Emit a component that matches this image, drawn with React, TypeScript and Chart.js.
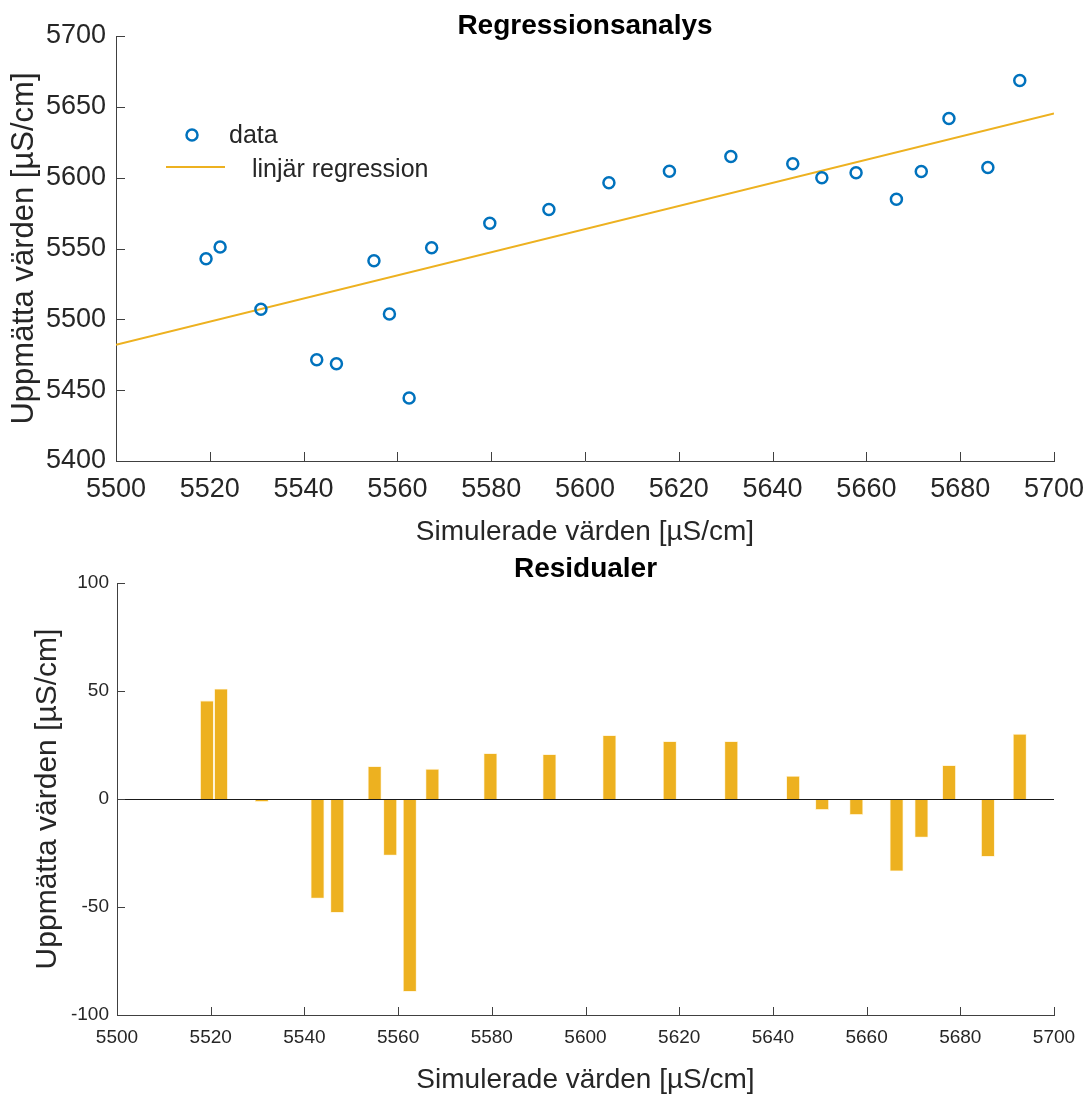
import React, { useEffect, useRef } from "react";
import { Chart, registerables } from "chart.js";

Chart.register(...registerables);

// Simulated values (x) shared by both panels
const simX = [
  5519.2, 5522.2, 5530.9, 5542.8, 5547.0, 5555.0, 5558.3, 5562.5, 5567.3, 5579.7, 5592.3,
  5605.1, 5618.0, 5631.1, 5644.3, 5650.5, 5657.8, 5666.4, 5671.7, 5677.6, 5685.9, 5692.7,
];
// Measured values (y, top panel)
const measY = [
  5542.8, 5551.1, 5507.1, 5471.4, 5468.6, 5541.4, 5503.8, 5444.4, 5550.6, 5567.8, 5577.6,
  5596.4, 5604.6, 5615.0, 5609.8, 5599.9, 5603.4, 5584.7, 5604.4, 5641.8, 5607.2, 5668.6,
];
// Regression line end points
const regX = [5500, 5700];
const regY = [5482.0, 5645.3];
// Residuals (bottom panel)
const residY = [
  45.4, 50.9, -1.2, -45.9, -52.5, 15.0, -26.0, -89.1, 13.8, 21.0, 20.6,
  29.4, 26.6, 26.6, 10.5, -4.9, -7.2, -33.3, -17.7, 15.5, -26.6, 30.0,
];

const topTitle = "Regressionsanalys";
const bottomTitle = "Residualer";
const xTitle = "Simulerade värden [µS/cm]";
const yTitle = "Uppmätta värden [µS/cm]";
const legendLabels = ["data", "linjär regression"];

const FONT = "'Liberation Sans', Arial, Helvetica, sans-serif";
const BLUE = "#0072BD";
const GOLD = "#EDB120";
const AXIS = "#404040";
const TEXT = "#262626";

const plainTick = (v: any) => String(v);

const inwardTicks = (len: number) => ({
  id: "inwardTicks",
  afterDraw(chart: any) {
    const { ctx, chartArea } = chart;
    const x = chart.scales.x;
    const y = chart.scales.y;
    ctx.save();
    ctx.strokeStyle = AXIS;
    ctx.lineWidth = 1;
    ctx.beginPath();
    x.ticks.forEach((_: any, i: number) => {
      const px = Math.round(x.getPixelForTick(i)) + 0.5;
      ctx.moveTo(px, chartArea.bottom);
      ctx.lineTo(px, chartArea.bottom - len);
    });
    y.ticks.forEach((_: any, i: number) => {
      const py = Math.round(y.getPixelForTick(i)) + 0.5;
      ctx.moveTo(chartArea.left, py);
      ctx.lineTo(chartArea.left + len, py);
    });
    ctx.stroke();
    ctx.restore();
  },
});

const titlePlugin = (text: string, size: number, yPos: number) => ({
  id: "customTitle",
  afterDraw(chart: any) {
    const { ctx, chartArea } = chart;
    ctx.save();
    ctx.font = `bold ${size}px ${FONT}`;
    ctx.fillStyle = "#000";
    ctx.textAlign = "center";
    ctx.textBaseline = "middle";
    ctx.fillText(text, (chartArea.left + chartArea.right) / 2, yPos);
    ctx.restore();
  },
});

const legendPlugin = {
  id: "customLegend",
  afterDraw(chart: any) {
    const { ctx } = chart;
    ctx.save();
    ctx.strokeStyle = BLUE;
    ctx.lineWidth = 2.5;
    ctx.beginPath();
    ctx.arc(192, 135, 5.5, 0, Math.PI * 2);
    ctx.stroke();
    ctx.strokeStyle = GOLD;
    ctx.lineWidth = 2;
    ctx.beginPath();
    ctx.moveTo(166, 167);
    ctx.lineTo(225, 167);
    ctx.stroke();
    ctx.font = `25px ${FONT}`;
    ctx.fillStyle = TEXT;
    ctx.textBaseline = "middle";
    ctx.textAlign = "left";
    ctx.fillText(legendLabels[0], 229, 136);
    ctx.fillText(legendLabels[1], 252, 170);
    ctx.restore();
  },
};

const baselinePlugin = {
  id: "baseline",
  afterDatasetsDraw(chart: any) {
    const { ctx, chartArea } = chart;
    const py = Math.round(chart.scales.y.getPixelForValue(0)) + 0.5;
    ctx.save();
    ctx.strokeStyle = "#1a1a1a";
    ctx.lineWidth = 1.2;
    ctx.beginPath();
    ctx.moveTo(chartArea.left, py);
    ctx.lineTo(chartArea.right, py);
    ctx.stroke();
    ctx.restore();
  },
};

const fitX = (h: number) => (s: any) => {
  s.height = h;
  s.paddingLeft = 0;
  s.paddingRight = 0;
};

export default function App() {
  const topRef = useRef<HTMLCanvasElement>(null);
  const botRef = useRef<HTMLCanvasElement>(null);

  useEffect(() => {
    const c1 = new Chart(topRef.current!, {
      type: "scatter",
      data: {
        datasets: [
          {
            type: "scatter",
            label: legendLabels[0],
            data: simX.map((x, i) => ({ x, y: measY[i] })),
            borderColor: BLUE,
            backgroundColor: "rgba(0,0,0,0)",
            borderWidth: 2.5,
            pointRadius: 5.5,
            pointStyle: "circle",
          },
          {
            type: "line",
            label: legendLabels[1],
            data: regX.map((x, i) => ({ x, y: regY[i] })),
            borderColor: GOLD,
            borderWidth: 2,
            pointRadius: 0,
            fill: false,
          } as any,
        ],
      },
      options: {
        responsive: false,
        animation: false,
        layout: { padding: { left: 0, right: 35, top: 36, bottom: 0 } },
        plugins: { legend: { display: false }, title: { display: false }, tooltip: { enabled: false } },
        scales: {
          x: {
            type: "linear",
            min: 5500,
            max: 5700,
            ticks: { stepSize: 20, padding: 12, color: TEXT, font: { family: FONT, size: 27 }, maxRotation: 0, callback: plainTick },
            grid: { display: false, drawTicks: false },
            border: { display: true, color: AXIS, width: 1 },
            title: { display: true, text: xTitle, color: TEXT, font: { family: FONT, size: 28 }, padding: { top: 0, bottom: 1 } },
            afterFit: fitX(89),
          },
          y: {
            type: "linear",
            min: 5400,
            max: 5700,
            ticks: { stepSize: 50, padding: 10, color: TEXT, font: { family: FONT, size: 27 }, callback: plainTick },
            grid: { display: false, drawTicks: false },
            border: { display: true, color: AXIS, width: 1 },
            title: { display: true, text: yTitle, color: TEXT, font: { family: FONT, size: 31 }, padding: { top: 6, bottom: 0 } },
            afterFit: (s: any) => { s.width = 116; },
          },
        },
      },
      plugins: [inwardTicks(9), titlePlugin(topTitle, 28, 26), legendPlugin],
    });

    const c2 = new Chart(botRef.current!, {
      type: "bar",
      data: {
        datasets: [
          {
            label: "Residualer",
            data: simX.map((x, i) => ({ x, y: residY[i] })),
            backgroundColor: GOLD,
            borderColor: "rgba(255,236,190,0.9)",
            borderWidth: 0.8,
            barThickness: 13,
          },
        ],
      },
      options: {
        responsive: false,
        animation: false,
        layout: { padding: { left: 0, right: 35, top: 33, bottom: 0 } },
        plugins: { legend: { display: false }, title: { display: false }, tooltip: { enabled: false } },
        scales: {
          x: {
            type: "linear",
            min: 5500,
            max: 5700,
            offset: false,
            ticks: { stepSize: 20, padding: 11, color: TEXT, font: { family: FONT, size: 19 }, maxRotation: 0, callback: plainTick },
            grid: { display: false, drawTicks: false, offset: false },
            border: { display: true, color: AXIS, width: 1 },
            title: { display: true, text: xTitle, color: TEXT, font: { family: FONT, size: 28 }, padding: { top: 0, bottom: 0 } },
            afterFit: fitX(82),
          },
          y: {
            type: "linear",
            min: -100,
            max: 100,
            ticks: { stepSize: 50, padding: 8, color: TEXT, font: { family: FONT, size: 19 }, callback: plainTick },
            grid: { display: false, drawTicks: false },
            border: { display: true, color: AXIS, width: 1 },
            title: { display: true, text: yTitle, color: TEXT, font: { family: FONT, size: 30 }, padding: { top: 30, bottom: 0 } },
            afterFit: (s: any) => { s.width = 117; },
          },
        },
      },
      plugins: [inwardTicks(8), titlePlugin(bottomTitle, 28, 19), baselinePlugin],
    });

    return () => {
      c1.destroy();
      c2.destroy();
    };
  }, []);

  return (
    <div style={{ position: "absolute", left: 0, top: 0, width: 1089, height: 1097, background: "#fff" }}>
      <canvas ref={topRef} width={1089} height={550} style={{ position: "absolute", left: 0, top: 0 }} />
      <canvas ref={botRef} width={1089} height={547} style={{ position: "absolute", left: 0, top: 550 }} />
    </div>
  );
}
